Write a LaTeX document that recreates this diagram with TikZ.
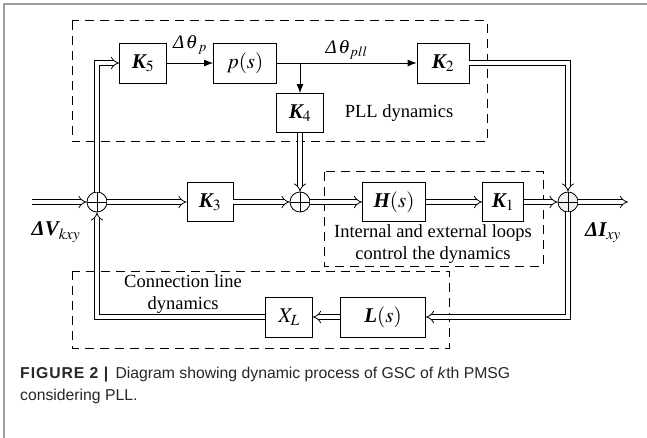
\documentclass[tikz,border=0pt]{standalone}
\usepackage{amsmath}
\usepackage{mathptmx}
\usepackage{fontspec}
\setmainfont{Liberation Serif}
\newfontfamily\capfont{Liberation Sans}
\usetikzlibrary{arrows.meta}
\newcommand\bmv[1]{\text{\bfseries\itshape #1}}
\newcommand\itD{\text{\itshape Δ}\mkern1.5mu}
\begin{document}
\begin{tikzpicture}[x=1pt,y=-1pt,
  blk/.style={draw, line width=0.8pt, minimum width=#1, minimum height=40pt, inner sep=0pt, font=\fontsize{21}{24}\selectfont},
  sumj/.style={circle, draw, line width=0.8pt, minimum size=20pt, inner sep=0pt,
    path picture={\draw[line width=0.8pt] (path picture bounding box.north) -- (path picture bounding box.south)
      (path picture bounding box.west) -- (path picture bounding box.east);}},
  dbl/.style={double, double distance=3.6pt, line width=0.75pt, -{Implies}},
  sgl/.style={line width=0.8pt, -{Latex[length=9pt,width=7pt]}},
  dsh/.style={line width=1pt, dash pattern=on 9pt off 6pt},
  lbl/.style={font=\fontsize{18.5}{22.5}\selectfont, align=center},
  mlbl/.style={font=\fontsize{19}{22}\selectfont, inner sep=1pt},
  caplbl/.style={anchor=base west, inner sep=0pt, font=\capfont\fontsize{15.75}{22.5}\selectfont, text=black!85}
]
\useasboundingbox (0,0) rectangle (647,438);
\draw[gray!75, line width=1.5pt] (4,438) -- (4,4) -- (647,4);

% dashed groups
\draw[dsh] (72,21) rectangle (487,142);
\draw[dsh] (324,172) rectangle (543,266);
\draw[dsh] (72,271) rectangle (449,348);

% blocks
\node[blk=47pt] (K5) at (143,63) {$\bmv{K}_5$};
\node[blk=63pt] (ps) at (245,63) {$p(s)$};
\node[blk=47pt, minimum height=39pt] (K4) at (300,113) {$\bmv{K}_4$};
\node[blk=52pt] (K2) at (443,63) {$\bmv{K}_2$};
\node[blk=46pt, minimum height=39pt] (K3) at (210,202) {$\bmv{K}_3$};
\node[blk=63pt, minimum height=39pt] (Hs) at (394,202) {$\bmv{H}(s)$};
\node[blk=41pt, minimum height=39pt] (K1) at (503,202) {$\bmv{K}_1$};
\node[blk=47pt] (XL) at (289,317) {$X_L$};
\node[blk=85pt] (Ls) at (383,317) {$\bmv{L}(s)$};

% summing junctions
\node[sumj] (S1) at (97,202) {};
\node[sumj] (S2) at (300,202) {};
\node[sumj, fill=gray!12] (S3) at (568,202) {};

\coordinate (in) at (32,202);
\coordinate (out) at (628,202);
\coordinate (br) at (K4.north |- ps.east);

% double connectors
\draw[dbl] (in) -- (S1);
\draw[dbl] (S1) -- (K3);
\draw[dbl] (K3) -- (S2);
\draw[dbl] (K4) -- (S2);
\draw[dbl] (S2) -- (Hs);
\draw[dbl] (Hs) -- (K1);
\draw[dbl] (K1) -- (S3);
\draw[dbl] (K2.east) -| (S3.north);
\draw[dbl] (S3) -- (out);
\draw[dbl] (S3.south) |- (Ls.east);
\draw[dbl] (Ls) -- (XL);
\draw[dbl] (XL.west) -| (S1.south);
\draw[dbl] (S1.north) |- (K5.west);

% single connectors
\draw[sgl] (K5) -- node[above=7pt, mlbl] {$\itD\theta_{\mkern3mu p}$} (ps);
\draw[sgl] (ps) -- node[above=2pt, mlbl] {$\itD\theta_{\mkern2mu pll}$} (K2);
\draw[sgl] (br) -- (K4);

% labels
\node[lbl] at (399,113) {PLL dynamics};
\node[lbl] at (433,244) {Internal and external loops\\control the dynamics};
\node[lbl] at (183,294) {Connection line\\dynamics};
\node[font=\fontsize{21}{24}\selectfont] at (56,232) {$\bmv{ΔV}_{kxy}$};
\node[font=\fontsize{21}{24}\selectfont] at (603,233) {$\bmv{ΔI}_{xy}$};

% caption
\node[caplbl] (cap1) at (20,378) {{\bfseries\addfontfeature{LetterSpace=6}FIGURE 2 |}\hspace{3pt} Diagram showing dynamic process of GSC of \textit{k}th PMSG};
\node[caplbl] (cap2) at (20,400.5) {considering PLL.};
\end{tikzpicture}
\end{document}
